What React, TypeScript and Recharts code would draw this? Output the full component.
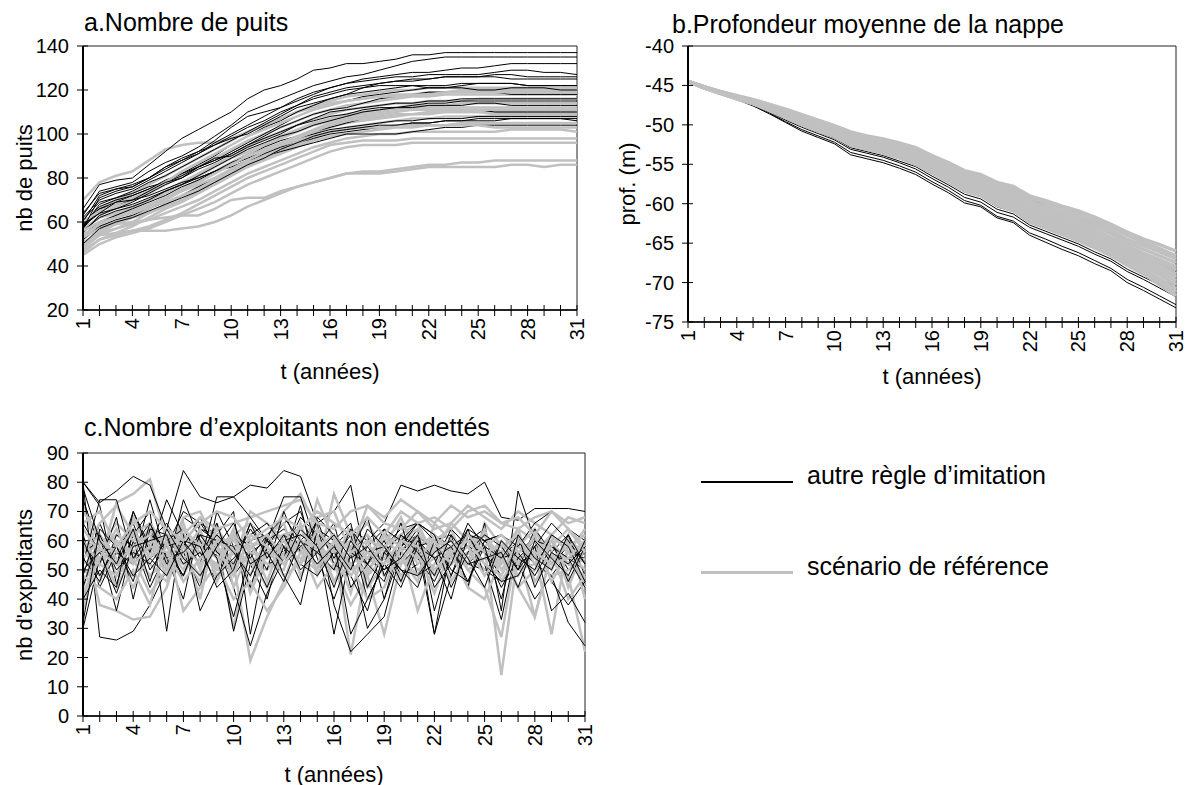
import React from 'react';
import { LineChart, Line, XAxis, YAxis, ReferenceArea } from 'recharts';

// années simulées
const annees = [1, 2, 3, 4, 5, 6, 7, 8, 9, 10, 11, 12, 13, 14, 15, 16, 17, 18, 19, 20, 21, 22, 23, 24, 25, 26, 27, 28, 29, 30, 31];
const anneesAffichees = [1, 4, 7, 10, 13, 16, 19, 22, 25, 28, 31];

// a. nombre de puits
const puitsTicks = [20, 40, 60, 80, 100, 120, 140];
const puitsAutre: number[][] = [
  [66, 77, 79, 80, 86, 92, 98, 102, 106, 110, 116, 120, 122, 125, 129, 130, 132, 132, 133, 134, 136, 136, 137, 137, 137, 137, 137, 137, 137, 137, 137],
  [63, 74, 76, 78, 83, 87, 90, 94, 99, 104, 110, 113, 116, 119, 122, 124, 126, 127, 129, 131, 133, 134, 135, 135, 135, 135, 135, 135, 135, 135, 135],
  [60, 72, 75, 77, 80, 84, 88, 92, 97, 103, 108, 110, 112, 115, 118, 121, 123, 125, 126, 127, 128, 128, 129, 130, 130, 131, 132, 132, 132, 132, 132],
  [62, 70, 73, 75, 79, 83, 87, 91, 96, 100, 104, 108, 112, 116, 119, 121, 123, 124, 125, 126, 126, 127, 127, 127, 127, 128, 129, 129, 128, 128, 127],
  [58, 68, 71, 74, 78, 81, 85, 89, 93, 97, 101, 105, 109, 113, 116, 118, 120, 121, 123, 124, 125, 125, 126, 126, 126, 126, 125, 125, 125, 125, 125],
  [57, 66, 69, 72, 75, 79, 82, 86, 90, 95, 99, 103, 106, 110, 113, 116, 118, 119, 120, 121, 122, 122, 122, 123, 123, 123, 123, 122, 122, 122, 122],
  [59, 67, 70, 72, 75, 78, 81, 85, 88, 92, 96, 100, 104, 108, 111, 113, 115, 117, 118, 119, 120, 121, 121, 121, 120, 120, 121, 121, 121, 120, 120],
  [55, 63, 66, 69, 73, 77, 80, 84, 87, 91, 95, 99, 103, 106, 109, 111, 112, 114, 116, 117, 118, 119, 119, 119, 119, 119, 118, 118, 118, 118, 118],
  [61, 69, 71, 73, 76, 78, 82, 85, 88, 91, 95, 98, 101, 104, 107, 110, 111, 112, 113, 114, 114, 115, 115, 116, 116, 116, 116, 116, 116, 116, 116],
  [56, 62, 65, 67, 70, 74, 77, 81, 85, 89, 93, 96, 99, 101, 104, 106, 108, 110, 111, 112, 112, 113, 113, 113, 114, 114, 113, 113, 113, 113, 113],
  [54, 60, 63, 66, 69, 72, 76, 79, 83, 87, 90, 94, 97, 99, 101, 103, 105, 107, 108, 109, 109, 110, 111, 111, 111, 110, 110, 110, 110, 110, 110],
  [58, 64, 66, 68, 71, 74, 77, 80, 83, 86, 89, 92, 95, 98, 100, 102, 103, 104, 105, 106, 106, 107, 107, 107, 108, 108, 108, 108, 108, 108, 108],
  [52, 58, 61, 63, 66, 69, 72, 76, 80, 84, 87, 91, 94, 96, 98, 100, 101, 102, 103, 104, 105, 105, 106, 106, 106, 106, 107, 107, 107, 107, 106],
  [60, 66, 68, 70, 72, 75, 78, 80, 83, 85, 88, 90, 92, 94, 96, 98, 100, 100, 100, 100, 101, 102, 103, 103, 104, 104, 104, 104, 104, 104, 104],
  [57, 71, 74, 76, 80, 85, 89, 92, 95, 99, 103, 106, 110, 113, 117, 119, 121, 122, 123, 124, 124, 125, 126, 126, 126, 127, 127, 126, 126, 126, 126],
  [59, 64, 69, 70, 74, 78, 80, 85, 89, 90, 94, 97, 100, 104, 106, 108, 109, 111, 112, 112, 113, 114, 114, 115, 115, 115, 115, 115, 115, 115, 115],
  [64, 73, 75, 76, 80, 85, 88, 91, 95, 98, 100, 104, 108, 112, 114, 116, 118, 121, 122, 122, 122, 121, 121, 122, 123, 123, 123, 122, 122, 122, 122],
  [50, 57, 60, 62, 65, 68, 71, 74, 78, 82, 86, 89, 93, 96, 99, 101, 102, 103, 104, 104, 105, 105, 106, 106, 107, 107, 107, 107, 107, 107, 107],
];
const puitsRef: number[][] = [
  [70, 78, 81, 83, 88, 93, 95, 96, 96, 98, 101, 104, 107, 110, 112, 114, 115, 116, 117, 118, 118, 119, 119, 120, 120, 120, 120, 120, 120, 120, 120],
  [58, 66, 70, 73, 77, 81, 85, 89, 93, 97, 101, 104, 107, 110, 113, 115, 117, 118, 119, 120, 120, 121, 121, 121, 121, 121, 121, 121, 121, 121, 121],
  [55, 63, 67, 70, 73, 77, 81, 85, 89, 93, 97, 100, 103, 106, 109, 111, 113, 114, 115, 116, 117, 117, 118, 118, 118, 118, 118, 118, 118, 118, 118],
  [53, 60, 63, 66, 70, 74, 78, 82, 86, 90, 94, 98, 101, 104, 107, 109, 111, 112, 113, 114, 114, 115, 115, 115, 116, 116, 116, 116, 116, 116, 116],
  [57, 62, 64, 67, 70, 73, 77, 81, 85, 89, 92, 95, 99, 102, 105, 107, 109, 110, 111, 112, 113, 113, 113, 114, 114, 114, 114, 114, 114, 114, 114],
  [50, 56, 60, 63, 67, 71, 75, 79, 83, 87, 91, 95, 98, 101, 104, 106, 108, 109, 110, 111, 112, 112, 112, 112, 112, 112, 112, 112, 112, 112, 112],
  [48, 54, 57, 60, 64, 68, 72, 76, 80, 84, 88, 91, 94, 97, 100, 103, 105, 106, 107, 108, 109, 109, 110, 110, 110, 110, 110, 110, 110, 110, 110],
  [52, 58, 60, 62, 64, 67, 70, 74, 78, 82, 86, 89, 92, 95, 98, 101, 103, 104, 105, 106, 107, 107, 108, 108, 108, 108, 108, 108, 108, 108, 108],
  [46, 52, 55, 58, 62, 66, 69, 73, 77, 81, 85, 88, 91, 94, 97, 99, 100, 101, 102, 103, 103, 104, 104, 105, 105, 105, 105, 105, 105, 105, 105],
  [50, 55, 57, 59, 61, 64, 67, 70, 74, 78, 82, 85, 88, 91, 94, 96, 98, 99, 100, 100, 101, 101, 101, 101, 101, 101, 102, 102, 102, 102, 101],
  [47, 52, 54, 56, 58, 61, 64, 68, 72, 76, 80, 83, 86, 89, 92, 95, 96, 97, 97, 97, 98, 98, 98, 98, 98, 98, 98, 98, 98, 98, 98],
  [45, 50, 53, 55, 57, 60, 63, 66, 69, 73, 77, 80, 83, 86, 89, 92, 94, 95, 95, 95, 96, 96, 96, 96, 96, 96, 96, 96, 96, 96, 96],
  [51, 54, 55, 56, 56, 56, 57, 58, 60, 63, 67, 70, 73, 76, 78, 80, 82, 82, 82, 83, 84, 85, 85, 85, 85, 85, 86, 86, 85, 86, 86],
  [53, 57, 59, 60, 61, 62, 63, 63, 66, 70, 71, 71, 74, 76, 78, 80, 82, 83, 83, 84, 85, 86, 86, 87, 87, 88, 88, 88, 88, 88, 88],
  [60, 65, 68, 71, 74, 78, 83, 87, 91, 95, 99, 102, 105, 108, 111, 113, 115, 116, 117, 117, 118, 118, 119, 119, 119, 119, 119, 119, 119, 119, 119],
  [54, 59, 62, 65, 68, 71, 74, 78, 82, 86, 90, 93, 96, 99, 102, 105, 107, 108, 109, 110, 111, 111, 111, 111, 111, 111, 111, 111, 111, 111, 111],
  [49, 55, 59, 62, 66, 70, 74, 77, 80, 84, 88, 92, 95, 98, 101, 104, 106, 107, 108, 109, 109, 110, 110, 110, 110, 109, 109, 109, 109, 109, 109],
  [56, 60, 62, 64, 67, 69, 72, 75, 79, 83, 87, 90, 93, 96, 99, 101, 102, 103, 103, 104, 104, 104, 104, 104, 104, 103, 103, 103, 103, 103, 103],
];

// b. profondeur moyenne de la nappe
const profTicks = [-75, -70, -65, -60, -55, -50, -45, -40];
const profAutre: number[][] = [
  [-44.5, -45.3, -46.1, -46.8, -47.6, -48.6, -49.7, -50.8, -51.6, -52.4, -53.8, -54.3, -54.8, -55.5, -56.3, -57.5, -58.6, -59.9, -60.4, -61.8, -62.4, -64.0, -64.9, -65.8, -66.6, -67.6, -68.5, -70.0, -71.0, -72.1, -73.2],
  [-44.5, -45.3, -46.1, -46.8, -47.5, -48.5, -49.6, -50.6, -51.4, -52.2, -53.5, -54.0, -54.5, -55.2, -56.0, -57.2, -58.3, -59.6, -60.2, -61.6, -62.2, -63.7, -64.5, -65.4, -66.2, -67.2, -68.2, -69.6, -70.6, -71.7, -72.8],
  [-44.5, -45.2, -46.0, -46.7, -47.4, -48.4, -49.4, -50.3, -51.1, -51.9, -53.1, -53.6, -54.1, -54.8, -55.6, -56.8, -57.9, -59.2, -59.8, -61.1, -61.7, -63.0, -63.8, -64.6, -65.4, -66.4, -67.3, -68.6, -69.6, -70.7, -71.8],
  [-44.5, -45.2, -45.9, -46.6, -47.3, -48.2, -49.2, -50.1, -50.9, -51.7, -52.9, -53.4, -53.9, -54.6, -55.3, -56.5, -57.6, -58.8, -59.4, -60.7, -61.3, -62.7, -63.5, -64.3, -65.1, -66.1, -67.0, -68.3, -69.3, -70.3, -71.2],
  [-44.5, -45.2, -45.9, -46.6, -47.2, -48.1, -49.0, -49.9, -50.7, -51.5, -52.6, -53.1, -53.6, -54.3, -55.0, -56.2, -57.3, -58.5, -59.1, -60.4, -61.0, -62.4, -63.2, -64.0, -64.8, -65.7, -66.6, -67.8, -68.8, -69.6, -70.4],
  [-44.5, -45.2, -45.8, -46.4, -47.0, -47.8, -48.6, -49.4, -50.1, -50.8, -51.8, -52.3, -52.8, -53.4, -54.1, -55.2, -56.2, -57.3, -57.9, -59.0, -59.6, -60.8, -61.5, -62.3, -63.0, -63.9, -64.8, -65.8, -66.7, -67.6, -68.6],
  [-44.5, -45.2, -45.8, -46.3, -46.9, -47.6, -48.3, -49.0, -49.7, -50.4, -51.3, -51.8, -52.3, -52.9, -53.5, -54.6, -55.6, -56.5, -57.0, -57.8, -58.4, -59.4, -60.2, -61.0, -61.8, -62.8, -63.7, -64.8, -65.7, -66.6, -67.6],
];
const profRef: number[][] = [
  [-44.5, -45.2, -45.8, -46.3, -46.8, -47.4, -48.0, -48.7, -49.4, -50.1, -50.9, -51.4, -51.8, -52.3, -52.9, -53.9, -54.8, -55.8, -56.3, -57.3, -57.8, -59.0, -59.6, -60.3, -60.9, -61.7, -62.6, -63.6, -64.5, -65.2, -66.0],
  [-44.5, -45.2, -45.8, -46.3, -46.8, -47.4, -48.1, -48.8, -49.5, -50.2, -51.0, -51.5, -51.9, -52.5, -53.1, -54.1, -55.0, -56.0, -56.5, -57.6, -58.1, -59.3, -59.9, -60.6, -61.3, -62.1, -63.0, -64.0, -64.9, -65.7, -66.6],
  [-44.5, -45.2, -45.8, -46.4, -46.9, -47.5, -48.2, -48.9, -49.6, -50.4, -51.2, -51.7, -52.2, -52.7, -53.3, -54.3, -55.3, -56.3, -56.8, -57.9, -58.4, -59.7, -60.3, -61.0, -61.7, -62.5, -63.4, -64.5, -65.3, -66.1, -67.0],
  [-44.5, -45.2, -45.8, -46.4, -47.0, -47.6, -48.3, -49.0, -49.7, -50.5, -51.4, -51.9, -52.3, -52.8, -53.5, -54.5, -55.5, -56.5, -57.1, -58.2, -58.7, -60.0, -60.7, -61.4, -62.1, -62.9, -63.8, -64.9, -65.8, -66.6, -67.5],
  [-44.5, -45.2, -45.9, -46.5, -47.0, -47.7, -48.4, -49.2, -49.9, -50.7, -51.6, -52.1, -52.5, -53.0, -53.7, -54.8, -55.8, -56.8, -57.4, -58.5, -59.1, -60.4, -61.1, -61.8, -62.5, -63.3, -64.3, -65.3, -66.3, -67.1, -68.0],
  [-44.5, -45.2, -45.9, -46.5, -47.0, -47.7, -48.5, -49.3, -50.0, -50.8, -51.7, -52.2, -52.6, -53.2, -53.9, -54.9, -55.9, -57.0, -57.6, -58.7, -59.3, -60.6, -61.3, -62.0, -62.7, -63.6, -64.5, -65.6, -66.5, -67.4, -68.4],
  [-44.5, -45.3, -45.9, -46.5, -47.1, -47.8, -48.6, -49.4, -50.1, -50.9, -51.8, -52.3, -52.8, -53.3, -54.1, -55.1, -56.1, -57.2, -57.8, -58.9, -59.5, -60.9, -61.6, -62.3, -63.0, -63.9, -64.8, -65.9, -66.8, -67.8, -68.9],
  [-44.5, -45.3, -46.0, -46.6, -47.1, -47.9, -48.7, -49.5, -50.2, -51.0, -51.9, -52.4, -52.9, -53.5, -54.2, -55.3, -56.3, -57.4, -58.0, -59.1, -59.7, -61.1, -61.8, -62.6, -63.3, -64.2, -65.1, -66.2, -67.2, -68.2, -69.3],
  [-44.5, -45.3, -46.0, -46.6, -47.2, -47.9, -48.7, -49.6, -50.3, -51.1, -52.1, -52.6, -53.1, -53.6, -54.4, -55.5, -56.5, -57.6, -58.2, -59.3, -60.0, -61.3, -62.1, -62.8, -63.6, -64.5, -65.4, -66.5, -67.6, -68.6, -69.8],
  [-44.5, -45.3, -46.0, -46.6, -47.2, -48.0, -48.8, -49.7, -50.4, -51.2, -52.2, -52.7, -53.2, -53.8, -54.6, -55.6, -56.7, -57.8, -58.4, -59.5, -60.2, -61.5, -62.3, -63.1, -63.9, -64.8, -65.7, -66.8, -67.9, -69.0, -70.3],
  [-44.5, -45.3, -46.0, -46.7, -47.3, -48.1, -48.9, -49.8, -50.6, -51.3, -52.4, -52.9, -53.4, -53.9, -54.8, -55.8, -56.9, -58.0, -58.6, -59.8, -60.5, -61.8, -62.6, -63.4, -64.2, -65.1, -66.0, -67.2, -68.3, -69.5, -70.8],
  [-44.5, -45.3, -46.0, -46.7, -47.3, -48.1, -49.0, -49.9, -50.7, -51.4, -52.5, -53.0, -53.5, -54.1, -54.9, -56.0, -57.0, -58.2, -58.8, -60.0, -60.7, -62.0, -62.8, -63.6, -64.4, -65.3, -66.3, -67.5, -68.6, -69.9, -71.2],
  [-44.5, -45.3, -46.0, -46.7, -47.3, -48.2, -49.1, -50.0, -50.8, -51.5, -52.6, -53.1, -53.6, -54.2, -55.0, -56.1, -57.2, -58.4, -59.0, -60.2, -60.9, -62.3, -63.1, -63.9, -64.7, -65.6, -66.6, -67.8, -68.9, -70.3, -71.7],
];

// c. nombre d'exploitants non endettés
const exploitTicks = [0, 10, 20, 30, 40, 50, 60, 70, 80, 90];
const exploitAutre: number[][] = [
  [80, 27, 26, 29, 38, 50, 62, 58, 55, 48, 56, 60, 64, 58, 52, 56, 60, 54, 50, 58, 62, 56, 60, 52, 58, 54, 60, 56, 52, 54, 56],
  [80, 73, 77, 82, 79, 64, 84, 75, 73, 75, 79, 78, 84, 82, 66, 70, 79, 50, 58, 64, 66, 62, 58, 60, 64, 46, 52, 56, 60, 50, 56],
  [56, 60, 48, 62, 54, 58, 70, 66, 62, 52, 66, 60, 56, 68, 62, 58, 64, 60, 66, 79, 77, 79, 77, 76, 80, 68, 67, 71, 71, 71, 70],
  [80, 72, 45, 62, 70, 29, 68, 64, 60, 29, 52, 40, 62, 58, 60, 28, 56, 62, 40, 60, 54, 46, 58, 52, 50, 46, 52, 40, 48, 56, 54],
  [74, 58, 36, 60, 44, 56, 48, 64, 62, 70, 28, 58, 66, 70, 54, 40, 56, 30, 40, 56, 62, 28, 48, 60, 56, 44, 54, 60, 46, 38, 46],
  [62, 44, 56, 52, 74, 54, 40, 66, 58, 44, 24, 42, 54, 60, 66, 38, 22, 28, 34, 56, 64, 36, 56, 58, 52, 33, 60, 52, 48, 32, 24],
  [30, 54, 64, 52, 60, 66, 56, 44, 70, 58, 60, 50, 70, 56, 67, 52, 48, 58, 64, 52, 58, 60, 62, 44, 66, 36, 77, 60, 58, 54, 50],
  [48, 66, 52, 70, 58, 50, 74, 60, 50, 62, 58, 52, 54, 72, 48, 60, 66, 44, 56, 62, 58, 28, 58, 62, 60, 54, 56, 61, 52, 58, 62],
  [54, 46, 62, 58, 66, 52, 58, 68, 56, 52, 64, 56, 60, 62, 58, 66, 44, 52, 60, 48, 52, 58, 54, 64, 48, 60, 50, 64, 56, 62, 48],
  [58, 52, 68, 40, 64, 62, 52, 56, 46, 62, 54, 62, 52, 58, 64, 54, 62, 40, 52, 66, 48, 52, 64, 58, 56, 48, 58, 52, 60, 46, 58],
  [44, 62, 50, 56, 52, 60, 64, 54, 66, 48, 62, 66, 58, 46, 68, 62, 56, 68, 48, 58, 66, 60, 44, 56, 62, 58, 50, 58, 66, 60, 52],
  [66, 56, 58, 66, 50, 58, 48, 62, 60, 58, 44, 62, 68, 60, 56, 50, 64, 56, 58, 46, 60, 54, 58, 46, 60, 62, 56, 48, 58, 54, 44],
  [52, 74, 74, 54, 62, 58, 60, 52, 75, 75, 68, 60, 75, 75, 58, 62, 56, 52, 64, 60, 66, 62, 48, 64, 60, 62, 58, 66, 70, 64, 60],
  [40, 50, 44, 70, 56, 74, 62, 36, 48, 54, 60, 62, 48, 38, 64, 60, 28, 40, 52, 44, 58, 54, 40, 62, 52, 46, 48, 58, 36, 42, 32],
  [60, 48, 58, 46, 66, 54, 56, 62, 54, 34, 56, 44, 58, 52, 48, 56, 48, 36, 56, 50, 44, 60, 50, 46, 58, 54, 62, 44, 56, 52, 58],
  [50, 56, 42, 58, 60, 62, 46, 54, 62, 56, 48, 60, 52, 64, 58, 44, 60, 52, 46, 62, 56, 48, 62, 54, 44, 60, 54, 50, 62, 58, 46],
  [32, 64, 58, 48, 54, 48, 60, 58, 44, 50, 66, 54, 62, 50, 56, 62, 54, 58, 50, 54, 62, 44, 52, 66, 58, 40, 62, 54, 50, 62, 52],
  [78, 60, 52, 64, 46, 64, 54, 48, 58, 66, 52, 56, 46, 60, 52, 58, 50, 64, 58, 50, 48, 56, 60, 52, 54, 56, 44, 60, 54, 48, 60],
];
const exploitRef: number[][] = [
  [74, 52, 73, 76, 81, 60, 56, 48, 58, 62, 44, 58, 70, 76, 64, 56, 60, 66, 56, 62, 66, 54, 58, 62, 60, 56, 64, 60, 58, 52, 60],
  [62, 38, 36, 33, 34, 44, 62, 56, 50, 52, 19, 34, 46, 62, 60, 52, 38, 48, 28, 52, 56, 50, 54, 62, 58, 14, 56, 34, 56, 48, 22],
  [52, 56, 62, 58, 64, 52, 54, 46, 60, 30, 58, 60, 62, 56, 52, 58, 21, 52, 58, 68, 54, 60, 64, 50, 44, 27, 60, 56, 28, 60, 44],
  [44, 62, 48, 68, 56, 52, 48, 60, 54, 62, 66, 56, 58, 52, 74, 60, 52, 56, 60, 66, 58, 62, 56, 58, 62, 54, 58, 64, 52, 60, 56],
  [58, 48, 56, 52, 58, 56, 52, 60, 48, 56, 52, 50, 58, 60, 56, 50, 58, 48, 54, 56, 50, 54, 52, 56, 50, 54, 50, 52, 48, 50, 54],
  [40, 58, 44, 56, 48, 54, 66, 50, 64, 56, 48, 62, 66, 48, 58, 54, 64, 50, 56, 46, 62, 48, 56, 44, 66, 58, 48, 56, 62, 44, 58],
  [36, 58, 66, 60, 62, 54, 68, 70, 58, 52, 70, 66, 60, 56, 68, 70, 56, 72, 68, 74, 70, 64, 66, 72, 68, 64, 70, 66, 62, 68, 66],
  [50, 46, 60, 56, 64, 58, 50, 62, 56, 60, 54, 44, 56, 54, 50, 76, 62, 44, 52, 60, 64, 56, 66, 60, 56, 52, 64, 46, 54, 58, 62],
  [56, 62, 52, 48, 60, 48, 60, 40, 66, 44, 58, 52, 50, 66, 48, 58, 42, 60, 48, 54, 46, 66, 60, 52, 64, 46, 56, 58, 50, 62, 40],
  [46, 54, 58, 62, 52, 46, 58, 56, 52, 64, 42, 56, 54, 58, 44, 52, 58, 62, 54, 48, 56, 42, 58, 50, 54, 60, 52, 62, 46, 56, 50],
  [70, 62, 54, 44, 56, 62, 54, 58, 62, 50, 60, 46, 62, 64, 56, 62, 50, 54, 58, 62, 52, 58, 46, 56, 62, 50, 58, 54, 62, 56, 64],
  [60, 52, 48, 54, 42, 50, 56, 64, 46, 58, 52, 58, 48, 52, 62, 46, 56, 48, 62, 54, 48, 62, 54, 58, 48, 56, 44, 50, 60, 52, 48],
  [56, 66, 72, 62, 66, 58, 62, 68, 64, 66, 68, 70, 72, 74, 66, 64, 70, 72, 66, 64, 70, 66, 72, 68, 70, 66, 64, 68, 70, 66, 68],
  [48, 44, 40, 50, 38, 60, 36, 44, 52, 40, 46, 36, 44, 56, 60, 46, 52, 40, 44, 58, 36, 52, 56, 44, 40, 54, 44, 34, 56, 40, 48],
  [54, 60, 56, 64, 54, 62, 58, 52, 60, 56, 58, 62, 54, 60, 58, 62, 56, 60, 58, 52, 62, 58, 60, 54, 58, 62, 56, 60, 54, 58, 62],
  [64, 56, 52, 58, 62, 50, 64, 58, 50, 62, 56, 54, 60, 52, 64, 56, 60, 54, 62, 58, 54, 60, 52, 62, 56, 58, 62, 52, 58, 64, 56],
  [42, 54, 64, 52, 58, 56, 46, 54, 58, 48, 62, 58, 52, 60, 50, 60, 48, 56, 52, 60, 58, 50, 56, 60, 52, 48, 60, 56, 52, 54, 60],
  [66, 70, 58, 66, 70, 64, 60, 66, 70, 68, 60, 64, 68, 64, 70, 66, 62, 68, 62, 70, 66, 68, 64, 70, 72, 66, 68, 62, 70, 64, 58],
];

const FONT = '"Liberation Sans", Arial, sans-serif';
const NOIR = '#000000';
const GRIS = '#c0c0c0';

function buildRows(autre: number[][], ref: number[][]) {
  return annees.map((t, i) => {
    const row: Record<string, number> = { t };
    ref.forEach((s, k) => { row[`r${k}`] = s[i]; });
    autre.forEach((s, k) => { row[`a${k}`] = s[i]; });
    return row;
  });
}

// tick marks cross the axis line, labels turned a quarter
const XTick = (p: any) => {
  const { x, y, payload } = p;
  const ay = y - 10;
  const show = anneesAffichees.includes(payload.value);
  return (
    <g>
      <line x1={x} x2={x} y1={ay - 5} y2={ay + 6} stroke="#000" strokeWidth={1} />
      {show && (
        <text x={x} y={ay + 8} transform={`rotate(-90 ${x} ${ay + 8})`} textAnchor="end"
          dominantBaseline="central" fontSize={20} fontFamily={FONT} fill="#000">
          {payload.value}
        </text>
      )}
    </g>
  );
};

const YTick = (p: any) => {
  const { x, y, payload } = p;
  const ax = x + 10;
  return (
    <g>
      <line x1={ax - 6} x2={ax + 5} y1={y} y2={y} stroke="#000" strokeWidth={1} />
      <text x={ax - 14} y={y} textAnchor="end" dominantBaseline="central" fontSize={20} fontFamily={FONT} fill="#000">
        {payload.value}
      </text>
    </g>
  );
};

type PanelProps = {
  rows: Record<string, number>[];
  nAutre: number;
  nRef: number;
  ordre: 'mix' | 'gris-dessus';
  largeurGris: number;
  yDomain: [number, number];
  yTicks: number[];
  left: number;
  top: number;
  width: number;
  height: number;
  plot: { l: number; r: number; t: number; b: number };
};

function Panel({ rows, nAutre, nRef, ordre, largeurGris, yDomain, yTicks, left, top, width, height, plot }: PanelProps) {
  const order: { key: string; autre: boolean }[] = [];
  if (ordre === 'mix') {
    for (let k = 0; k < Math.max(nAutre, nRef); k++) {
      if (k < nRef) order.push({ key: `r${k}`, autre: false });
      if (k < nAutre) order.push({ key: `a${k}`, autre: true });
    }
  } else {
    for (let k = 0; k < nAutre; k++) order.push({ key: `a${k}`, autre: true });
    for (let k = 0; k < nRef; k++) order.push({ key: `r${k}`, autre: false });
  }
  return (
    <div style={{ position: 'absolute', left, top }}>
      <LineChart width={width} height={height} data={rows}
        margin={{ top: plot.t - top, right: left + width - plot.r, bottom: 0, left: 0 }}>
        <XAxis dataKey="t" type="number" domain={[1, 31]} ticks={annees} interval={0}
          tickSize={6} tickMargin={4} tickLine={false} height={top + height - plot.b}
          axisLine={{ stroke: '#000', strokeWidth: 1.5 }} tick={XTick} />
        <YAxis type="number" domain={yDomain} ticks={yTicks} interval={0}
          tickSize={6} tickMargin={4} tickLine={false} width={plot.l - left}
          axisLine={{ stroke: '#000', strokeWidth: 2 }} tick={YTick} />
        {order.map(o => (
          <Line key={o.key} dataKey={o.key} type="linear" stroke={o.autre ? NOIR : GRIS}
            strokeWidth={o.autre ? 1 : largeurGris} dot={false} activeDot={false} isAnimationActive={false} />
        ))}
        <ReferenceArea x1={1} x2={31} y1={yDomain[0]} y2={yDomain[1]} fill="none" stroke="#222" strokeWidth={1} />
      </LineChart>
    </div>
  );
}

const textStyle: React.CSSProperties = { position: 'absolute', fontFamily: FONT, color: '#000', whiteSpace: 'nowrap' };

function Titre({ x, y, size, children }: { x: number; y: number; size: number; children: React.ReactNode }) {
  return <div style={{ ...textStyle, left: x, top: y - size / 2, fontSize: size, lineHeight: `${size}px` }}>{children}</div>;
}

function AxeTitre({ cx, cy, vertical, children }: { cx: number; cy: number; vertical?: boolean; children: React.ReactNode }) {
  return (
    <div style={{
      ...textStyle, left: cx - 100, top: cy - 11, width: 200, textAlign: 'center', fontSize: 22, lineHeight: '22px',
      transform: vertical ? 'rotate(-90deg)' : undefined,
    }}>{children}</div>
  );
}

export default function App() {
  const rowsA = buildRows(puitsAutre, puitsRef);
  const rowsB = buildRows(profAutre, profRef);
  const rowsC = buildRows(exploitAutre, exploitRef);
  return (
    <div style={{ position: 'absolute', left: 0, top: 0, width: 1186, height: 785, background: '#fff', fontFamily: FONT }}>
      <Titre x={84} y={22} size={25}>a.Nombre de puits</Titre>
      <Panel rows={rowsA} nAutre={puitsAutre.length} nRef={puitsRef.length} ordre="mix" largeurGris={2.5}
        yDomain={[20, 140]} yTicks={puitsTicks}
        left={0} top={0} width={600} height={400} plot={{ l: 83, r: 577, t: 46, b: 310 }} />
      <AxeTitre cx={25} cy={178} vertical>nb de puits</AxeTitre>
      <AxeTitre cx={330} cy={372}>t (années)</AxeTitre>

      <Titre x={672} y={24} size={25}>b.Profondeur moyenne de la nappe</Titre>
      <Panel rows={rowsB} nAutre={profAutre.length} nRef={profRef.length} ordre="gris-dessus" largeurGris={3.5}
        yDomain={[-75, -40]} yTicks={profTicks}
        left={600} top={0} width={586} height={400} plot={{ l: 688, r: 1176, t: 46, b: 322 }} />
      <AxeTitre cx={628} cy={184} vertical>prof. (m)</AxeTitre>
      <AxeTitre cx={932} cy={377}>t (années)</AxeTitre>

      <Titre x={84} y={427} size={25}>c.Nombre d’exploitants non endettés</Titre>
      <Panel rows={rowsC} nAutre={exploitAutre.length} nRef={exploitRef.length} ordre="mix" largeurGris={2.5}
        yDomain={[0, 90]} yTicks={exploitTicks}
        left={0} top={400} width={600} height={385} plot={{ l: 83, r: 585, t: 453, b: 716 }} />
      <AxeTitre cx={25} cy={585} vertical>nb d'exploitants</AxeTitre>
      <AxeTitre cx={334} cy={775}>t (années)</AxeTitre>

      <div style={{ position: 'absolute', left: 701, top: 481, width: 92, borderTop: `2px solid ${NOIR}` }} />
      <Titre x={807} y={475} size={25}>autre règle d’imitation</Titre>
      <div style={{ position: 'absolute', left: 701, top: 571, width: 92, borderTop: `3px solid ${GRIS}` }} />
      <Titre x={807} y={566} size={25}>scénario de référence</Titre>
    </div>
  );
}
